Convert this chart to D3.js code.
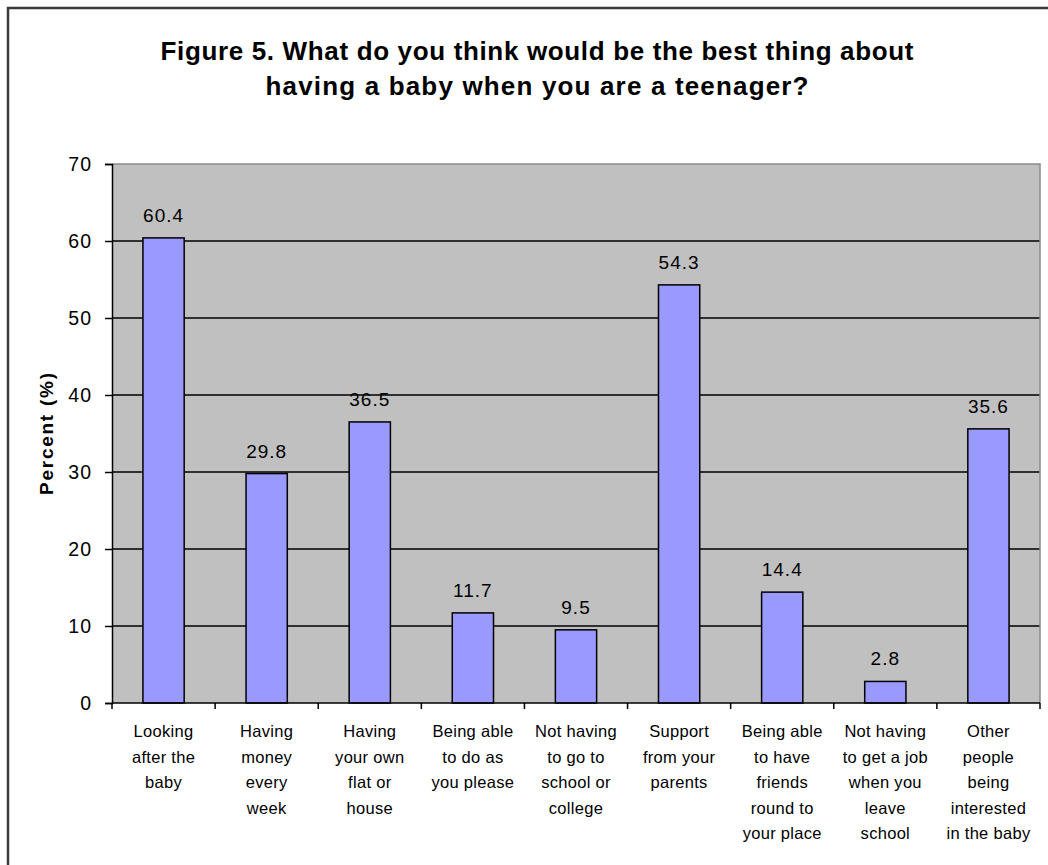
<!DOCTYPE html>
<html>
<head>
<meta charset="utf-8">
<script src="https://cdn.jsdelivr.net/npm/d3@7"></script>
<style>
  html, body { margin: 0; padding: 0; background: #fff; }
  svg { display: block; font-family: Arial, "Liberation Sans", sans-serif; }
</style>
</head>
<body>
<svg id="chart" width="1048" height="865"></svg>
<script>
// ---- data ----
const titleLines = [
  "Figure 5. What do you think would be the best thing about",
  "having a baby when you are a teenager?"
];
const yAxisTitle = "Percent (%)";
const categories = [
  ["Looking", "after the", "baby"],
  ["Having", "money", "every", "week"],
  ["Having", "your own", "flat or", "house"],
  ["Being able", "to do as", "you please"],
  ["Not having", "to go to", "school or", "college"],
  ["Support", "from your", "parents"],
  ["Being able", "to have", "friends", "round to", "your place"],
  ["Not having", "to get a job", "when you", "leave", "school"],
  ["Other", "people", "being", "interested", "in the baby"]
];
const values = [60.4, 29.8, 36.5, 11.7, 9.5, 54.3, 14.4, 2.8, 35.6];
const yTicks = [0, 10, 20, 30, 40, 50, 60, 70];

// ---- layout ----
const svg = d3.select("#chart");
const plot = { left: 112, right: 1040, top: 164, bottom: 703 };

// outer chart border (only top/left visible in frame)
svg.append("rect")
  .attr("x", 8).attr("y", 8)
  .attr("width", 1100).attr("height", 900)
  .attr("fill", "#fff")
  .attr("stroke", "#3a3a3a").attr("stroke-width", 2.5);

const x = d3.scaleBand()
  .domain(d3.range(categories.length))
  .range([plot.left, plot.right])
  .paddingInner(0).paddingOuter(0);
const y = d3.scaleLinear().domain([0, 70]).range([plot.bottom, plot.top]);

// plot area
svg.append("rect")
  .attr("x", plot.left).attr("y", plot.top)
  .attr("width", plot.right - plot.left).attr("height", plot.bottom - plot.top)
  .attr("fill", "#c0c0c0");

// gridlines
svg.append("g").selectAll("line")
  .data(yTicks.filter(t => t > 0 && t < 70))
  .join("line")
  .attr("x1", plot.left).attr("x2", plot.right)
  .attr("y1", d => y(d)).attr("y2", d => y(d))
  .attr("stroke", "#000").attr("stroke-width", 1.5);

// plot border top/right (gray)
svg.append("path")
  .attr("d", `M${plot.left},${plot.top}H${plot.right}V${plot.bottom}`)
  .attr("fill", "none").attr("stroke", "#8a8a8a").attr("stroke-width", 1.5);

// bars
const barW = x.bandwidth() / 2.5;
svg.append("g").selectAll("rect")
  .data(values)
  .join("rect")
  .attr("x", (d, i) => x(i) + (x.bandwidth() - barW) / 2)
  .attr("y", d => y(d))
  .attr("width", barW)
  .attr("height", d => y(0) - y(d))
  .attr("fill", "#9999ff")
  .attr("stroke", "#000").attr("stroke-width", 1.5);

// value labels
svg.append("g").selectAll("text")
  .data(values)
  .join("text")
  .attr("x", (d, i) => x(i) + x.bandwidth() / 2)
  .attr("y", d => y(d) - 16)
  .attr("text-anchor", "middle")
  .attr("font-size", 19)
  .attr("letter-spacing", 1)
  .attr("fill", "#000")
  .text(d => d.toFixed(1));

// y axis
const yAxis = d3.axisLeft(y).tickValues(yTicks).tickSize(7).tickPadding(13).tickFormat(d3.format("d"));
const gy = svg.append("g").attr("transform", `translate(${plot.left},0)`).call(yAxis);
gy.select(".domain").attr("stroke", "#000").attr("stroke-width", 1.5);
gy.selectAll(".tick line").attr("stroke", "#000").attr("stroke-width", 1.5);
gy.selectAll(".tick text")
  .attr("font-size", 19.5).attr("letter-spacing", 1)
  .attr("font-family", "Arial, 'Liberation Sans', sans-serif")
  .attr("fill", "#000");

// x axis: ticks at category boundaries
const boundaries = d3.range(categories.length + 1).map(i => i < categories.length ? x(i) : plot.right);
svg.append("line")
  .attr("x1", plot.left).attr("x2", plot.right)
  .attr("y1", plot.bottom).attr("y2", plot.bottom)
  .attr("stroke", "#000").attr("stroke-width", 1.5);
svg.append("g").selectAll("line")
  .data(boundaries)
  .join("line")
  .attr("x1", d => d).attr("x2", d => d)
  .attr("y1", plot.bottom).attr("y2", plot.bottom + 6)
  .attr("stroke", "#000").attr("stroke-width", 1.5);

// x category labels
const lab = svg.append("g").selectAll("text")
  .data(categories)
  .join("text")
  .attr("text-anchor", "middle")
  .attr("font-size", 16.5)
  .attr("letter-spacing", 0.3)
  .attr("fill", "#000");
lab.each(function(lines, i) {
  const cx = x(i) + x.bandwidth() / 2;
  d3.select(this).selectAll("tspan")
    .data(lines)
    .join("tspan")
    .attr("x", cx)
    .attr("y", (d, j) => 737 + j * 25.5)
    .text(d => d);
});

// y axis title
svg.append("text")
  .attr("transform", "translate(53,434) rotate(-90)")
  .attr("text-anchor", "middle")
  .attr("font-size", 19)
  .attr("font-weight", "bold")
  .attr("textLength", 122).attr("lengthAdjust", "spacing")
  .text(yAxisTitle);

// title
const titleWidths = [753, 543];
svg.append("g").selectAll("text")
  .data(titleLines)
  .join("text")
  .attr("x", 537)
  .attr("y", (d, i) => 60 + i * 35)
  .attr("text-anchor", "middle")
  .attr("font-size", 26)
  .attr("font-weight", "bold")
  .attr("textLength", (d, i) => titleWidths[i])
  .attr("lengthAdjust", "spacing")
  .text(d => d);
</script>
</body>
</html>
